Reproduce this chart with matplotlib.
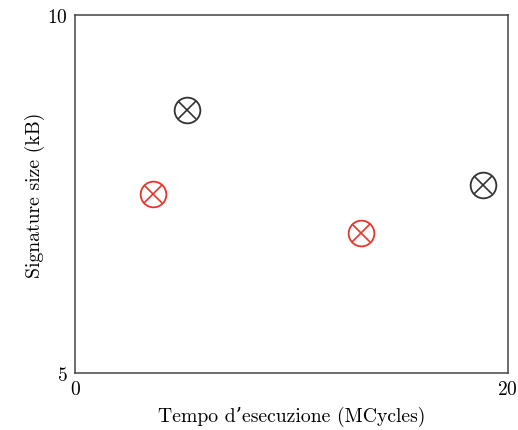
import matplotlib
matplotlib.use('Agg')
import matplotlib.pyplot as plt

plt.rcParams['font.family'] = ['cmr10', 'DejaVu Serif']
plt.rcParams['axes.formatter.use_mathtext'] = True

# punti per serie
black_x = [5.2, 18.85]
black_y = [8.67, 7.63]
red_x = [3.6, 13.2]
red_y = [7.5, 6.96]

x_ticks = [0, 20]
y_ticks = [5, 10]

fig = plt.figure(figsize=(5.18, 4.31), dpi=100)
ax = fig.add_axes([0.1448, 0.1323, 0.8352, 0.8313])

for xs, ys, col in [(black_x, black_y, '#333333'), (red_x, red_y, '#e8352c')]:
    ax.plot(xs, ys, linestyle='none', marker='o', markersize=18.5,
            markerfacecolor='none', markeredgecolor=col, markeredgewidth=1.3)
    ax.plot(xs, ys, linestyle='none', marker='x', markersize=13,
            markeredgecolor=col, markeredgewidth=1.2)

ax.set_xlim(0, 20)
ax.set_ylim(5, 10)
ax.set_xticks(x_ticks)
ax.set_yticks(y_ticks)
ax.tick_params(length=0, labelsize=14, pad=5)
for s in ax.spines.values():
    s.set_color('#444444')
    s.set_linewidth(1.1)

ax.set_xlabel('Tempo d\u2019esecuzione (MCycles)', fontsize=14.2, labelpad=6)
ax.set_ylabel('Signature size (kB)', fontsize=14.2, labelpad=2)

plt.savefig('out.png', dpi=100)
